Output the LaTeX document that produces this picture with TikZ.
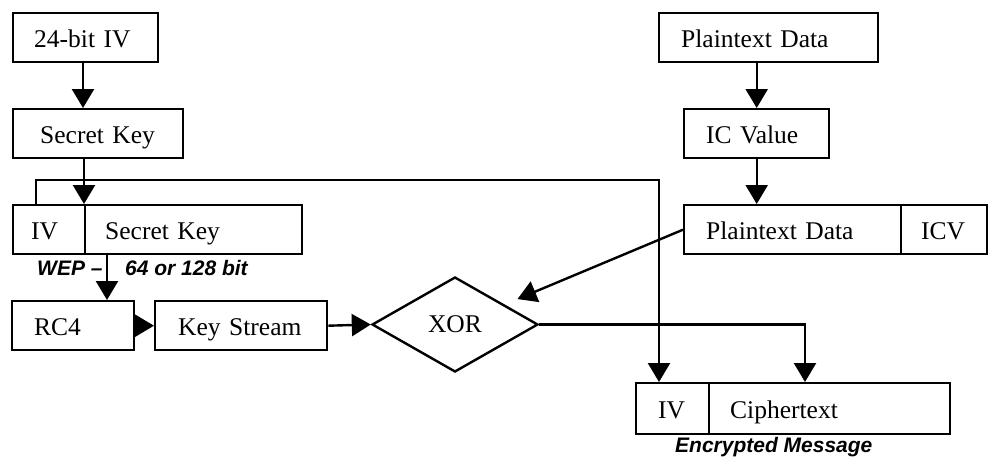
\documentclass[tikz,border=0pt]{standalone}
\usepackage{fontspec}
\setmainfont{Liberation Serif}
\setsansfont{Liberation Sans}
\usetikzlibrary{arrows.meta,shapes.geometric}
\tikzset{
  bx/.style={draw, line width=2.4pt, anchor=north west, align=left,
    inner ysep=0pt, minimum height=49pt, text height=22pt, text depth=2pt,
    font=\fontsize{25.5pt}{30pt}\selectfont},
  dia/.style={draw, diamond, line width=2.4pt, minimum width=166pt, minimum height=95pt,
    aspect=1.75, inner sep=0pt, font=\fontsize{25.5pt}{30pt}\selectfont},
  arr/.style={line width=2.4pt, -{Triangle[length=19pt,width=22pt]}},
  ln/.style={line width=2.4pt},
  note/.style={anchor=base west, inner sep=0pt, font=\sffamily\bfseries\itshape\fontsize{21pt}{25pt}\selectfont}
}
\begin{document}
\begin{tikzpicture}[x=1pt,y=-1pt]
\useasboundingbox (0,0) rectangle (989,456);
% left column
\node[bx, inner xsep=21pt, text width=103pt] (iv24) at (12,12) {24-bit IV};
\node[bx, inner xsep=27pt, text width=116pt] (sk) at (12,108) {Secret Key};
\node[bx, inner xsep=18pt, text width=36pt] (ivA) at (12,204) {IV};
\node[bx, inner xsep=20pt, text width=177pt] (ivB) at (84,204) {Secret Key};
\node[bx, inner xsep=22pt, text width=78pt] (rc4) at (11,300) {RC4};
\node[bx, inner xsep=23pt, text width=126pt] (ks) at (154,300) {Key Stream};
\node[dia] (xor) at (455,324.5) {XOR};
% right column
\node[bx, inner xsep=22pt, text width=175pt] (pd) at (658,12) {Plaintext Data};
\node[bx, inner xsep=22pt, text width=101pt] (icv) at (683,108) {IC Value};
\node[bx, inner xsep=22pt, text width=173pt] (pA) at (683,204) {Plaintext Data};
\node[bx, inner xsep=20pt, text width=46pt] (pB) at (900,204) {ICV};
\node[bx, inner xsep=22pt, text width=29pt, minimum height=51pt] (ctA) at (635,382) {IV};
\node[bx, inner xsep=21pt, text width=199pt, minimum height=51pt] (ctB) at (708,382) {Ciphertext};
% labels
\node[note] (wep) at (37,275) {WEP –};
\node[note] (bits) at (125,275) {64 or 128 bit};
\node[note] (enc) at (675,452) {Encrypted Message};
% helper coordinates
\coordinate (ivtap) at (36,180);
\coordinate (topR) at (659,180);
\coordinate (wepx) at (107,0);
\coordinate (outR) at (805,0);
% connectors
\draw[arr] (iv24.south -| 83,0) -- (sk.north -| 83,0);
\draw[arr] (sk.south -| ivB.north west) -- (ivB.north west);
\draw[arr] (ivA.north -| ivtap) -- (ivtap) -- (topR) -- (topR |- ctA.north);
\draw[arr] (ivB.south -| wepx) -- (rc4.north -| wepx);
\draw[arr] (rc4.east) -- (ks.west);
\draw[arr] (ks.east) -- (xor.west);
\draw[arr, shorten >=14pt] (pA.west) -- (xor.22);
\draw[arr] (xor.east) -| (ctB.north -| outR);
\draw[arr] (icv.north |- pd.south) -- (icv.north);
\draw[arr] (icv.south) -- (icv.south |- pA.north);
\end{tikzpicture}
\end{document}
